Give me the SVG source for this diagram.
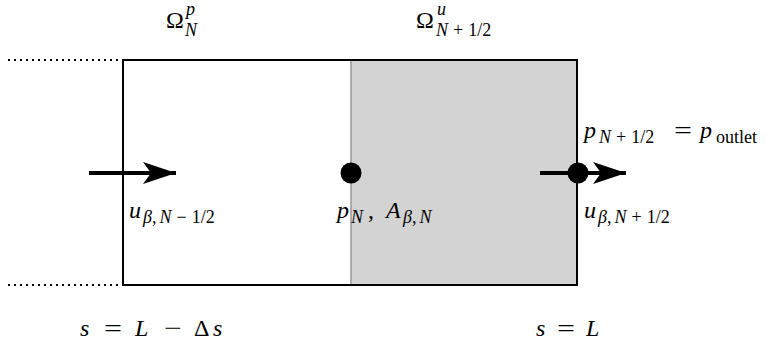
<svg xmlns="http://www.w3.org/2000/svg" width="772" height="345" viewBox="0 0 772 345">
<style>
text{font-family:"Liberation Serif","Times New Roman",serif;font-size:24px;fill:#000}
.i{font-style:italic}
.s{font-size:18px}
.dot{stroke:#000;stroke-width:2;stroke-dasharray:2 4}
</style>
<defs>
<marker id="ahb" markerWidth="34" markerHeight="24" refX="33" refY="12" orient="auto" markerUnits="userSpaceOnUse">
<path d="M0,1 L33,12 L0,23 L8,12 Z" fill="#000"/>
</marker>
</defs>
<g id="cells">
<rect x="351" y="60" width="226" height="225" fill="#d3d3d3"/>
<line x1="351" y1="60" x2="351" y2="285" stroke="#999" stroke-width="1.5"/>
<rect x="123" y="60" width="454" height="225" fill="none" stroke="#000" stroke-width="2"/>
<line class="dot" x1="8" y1="60" x2="122" y2="60"/>
<line class="dot" x1="8" y1="285" x2="122" y2="285"/>
</g>
<g id="connectors">
<line x1="89" y1="173" x2="176" y2="173" stroke="#000" stroke-width="4" marker-end="url(#ahb)"/>
<line x1="540" y1="173" x2="626" y2="173" stroke="#000" stroke-width="4" marker-end="url(#ahb)"/>
</g>
<g id="nodeP">
<circle cx="351" cy="173" r="10.5" fill="#000"/>
</g>
<g id="nodeOut">
<circle cx="578" cy="173" r="10.5" fill="#000"/>
</g>
<g id="labelOmegaP">
<text x="166" y="28">Ω</text>
<text class="s i" x="186" y="15">p</text>
<text class="s i" x="185" y="36">N</text>
</g>
<g id="labelOmegaU">
<text x="416" y="28">Ω</text>
<text class="s i" x="437" y="15">u</text>
<text class="s" x="436" y="36"><tspan class="i">N</tspan><tspan dx="5">+</tspan><tspan dx="5">1/2</tspan></text>
</g>
<g id="labelOutlet">
<text class="i" x="584" y="138">p</text>
<text class="s" x="599" y="143"><tspan class="i">N</tspan><tspan dx="5">+</tspan><tspan dx="5">1/2</tspan></text>
<text x="674" y="138" textLength="18" lengthAdjust="spacingAndGlyphs">=</text>
<text class="i" x="700" y="138">p</text>
<text class="s" x="716" y="143">outlet</text>
</g>
<g id="labelUplus">
<text class="i" x="584" y="218">u</text>
<text class="s" x="598" y="223"><tspan class="i">β</tspan>,<tspan class="i" dx="3">N</tspan><tspan dx="5">+</tspan><tspan dx="5">1/2</tspan></text>
</g>
<g id="labelUminus">
<text class="i" x="129" y="218">u</text>
<text class="s" x="143" y="223"><tspan class="i">β</tspan>,<tspan class="i" dx="3">N</tspan><tspan dx="5">−</tspan><tspan dx="5">1/2</tspan></text>
</g>
<g id="labelPA">
<text class="i" x="337" y="218">p</text>
<text class="s i" x="351" y="223">N</text>
<text x="368" y="218">,</text>
<text class="i" x="386" y="218">A</text>
<text class="s" x="403" y="223"><tspan class="i">β</tspan>,<tspan class="i" dx="3">N</tspan></text>
</g>
<g id="labelS1">
<text class="i" x="80" y="336">s</text>
<text x="104" y="336" textLength="18" lengthAdjust="spacingAndGlyphs">=</text>
<text class="i" x="135" y="336">L</text>
<text x="164" y="336" textLength="18" lengthAdjust="spacingAndGlyphs">−</text>
<text x="194" y="336">Δ</text>
<text class="i" x="213" y="336">s</text>
</g>
<g id="labelS2">
<text class="i" x="536" y="336">s</text>
<text x="557" y="336" textLength="18" lengthAdjust="spacingAndGlyphs">=</text>
<text class="i" x="586" y="336">L</text>
</g>
</svg>
